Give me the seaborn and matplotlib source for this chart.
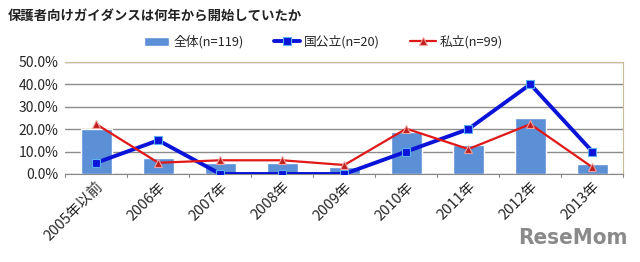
import matplotlib
matplotlib.use('Agg')
import matplotlib.pyplot as plt
import numpy as np
import pandas as pd
import seaborn as sns

years = ['2005年以前', '2006年', '2007年', '2008年', '2009年', '2010年', '2011年', '2012年', '2013年']
total = [20.0, 7.0, 5.0, 5.0, 3.0, 18.5, 13.0, 25.0, 4.5]
national = [5.0, 15.0, 0.0, 0.0, 0.0, 10.0, 20.0, 40.0, 10.0]
private = [22.2, 5.0, 6.1, 6.1, 4.0, 20.2, 11.1, 22.2, 3.0]

sns.set_style('white')
plt.rcParams['font.family'] = ['Noto Sans CJK JP', 'DejaVu Sans']

fig = plt.figure(figsize=(6.4, 2.62), dpi=100)
ax = fig.add_axes([0.102, 0.336, 0.872, 0.428])

df = pd.DataFrame({'year': years, 'total': total})
sns.barplot(data=df, x='year', y='total', color='#5b8fd6', width=0.5,
            saturation=1, ax=ax, label='全体(n=119)', legend=False, zorder=2)
x = np.arange(len(years))
ax.plot(x, national, color='#0a14d8', lw=2.8, marker='s', ms=6,
        markerfacecolor='#0a14d8', markeredgecolor='#5ab0f0', mew=0.8,
        label='国公立(n=20)', zorder=4)
ax.plot(x, private, color='#e01818', lw=1.6, marker='^', ms=6,
        markerfacecolor='#c02020', markeredgecolor='#f0a0a0', mew=0.8,
        label='私立(n=99)', zorder=5)
if ax.get_legend() is not None:
    ax.get_legend().remove()

ax.set_ylim(0, 50)
ax.set_xlim(-0.5, len(years) - 0.5)
ax.set_yticks([0, 10, 20, 30, 40, 50])
ax.set_yticklabels([f'{v:.1f}%' for v in [0, 10, 20, 30, 40, 50]], fontsize=10)
ax.yaxis.grid(True, color='#8c8c8c', lw=1.0, zorder=0)
ax.set_axisbelow(True)
ax.set_xlabel('')
ax.set_ylabel('')
ax.set_xticks(x)
ax.set_xticklabels(years, rotation=45, ha='right', rotation_mode='anchor', fontsize=10.5)
ax.tick_params(axis='x', length=0, pad=4)
ax.tick_params(axis='y', length=0, pad=5)
for t in np.arange(-0.5, len(years), 1.0):
    ax.plot([t, t], [0, -1.2], color='#888888', lw=0.8, clip_on=False)
for s in ['top', 'right']:
    ax.spines[s].set_color('#c8bc96')
    ax.spines[s].set_linewidth(0.8)
ax.spines['left'].set_visible(False)
ax.spines['bottom'].set_color('#888888')
ax.spines['bottom'].set_linewidth(0.8)

fig.text(0.012, 0.935, '保護者向けガイダンスは何年から開始していたか', fontsize=9.6,
         fontweight='bold', color='#222222', va='center')
handles, labels = ax.get_legend_handles_labels()
order = [labels.index('全体(n=119)'), labels.index('国公立(n=20)'), labels.index('私立(n=99)')]
fig.legend([handles[i] for i in order], [labels[i] for i in order],
           loc='center', bbox_to_anchor=(0.505, 0.84), ncol=3, frameon=False,
           fontsize=9.2, handlelength=2.0, columnspacing=2.4, handletextpad=0.3)

fig.text(0.98, 0.09, 'ReseMom', fontsize=16, fontweight='bold', color='#8a8a8a',
         ha='right', va='center', family=['DejaVu Sans'], stretch='condensed')

fig.savefig('out.png', dpi=100)
